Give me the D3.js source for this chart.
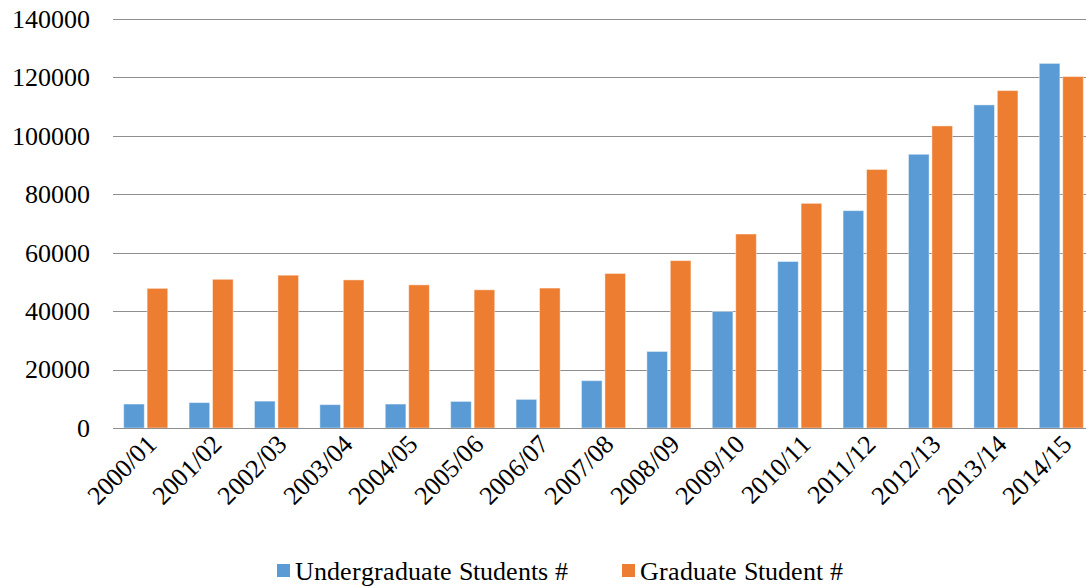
<!DOCTYPE html>
<html>
<head>
<meta charset="utf-8">
<script src="https://cdn.jsdelivr.net/npm/d3@7"></script>
<style>
  @font-face { font-family: "ChartSerif"; src: local("Liberation Serif"), local("LiberationSerif"), local("LiberationSerif-Regular"); }
  .lbl { font-family: "ChartSerif", "Liberation Serif", serif; font-size: 26px; fill: #000; }
</style>
</head>
<body style="margin:0">
<div id="chart"></div>
<script>
// data
var years = ["2000/01","2001/02","2002/03","2003/04","2004/05","2005/06","2006/07","2007/08",
             "2008/09","2009/10","2010/11","2011/12","2012/13","2013/14","2014/15"];
var undergrad = [8200, 8700, 9200, 8000, 8200, 9100, 9800, 16200, 26200, 39900, 57000, 74400, 93700, 110600, 124800];
var graduate = [47800, 50900, 52300, 50700, 49000, 47300, 47900, 52900, 57300, 66400, 76900, 88500, 103400, 115500, 120300];
var seriesNames = ["Undergraduate Students #", "Graduate Student #"];
var yTicks = [0, 20000, 40000, 60000, 80000, 100000, 120000, 140000];

var W = 1086, H = 588;
var margin = {top: 19, right: -8, bottom: 160, left: 113};
var width = W - margin.left - margin.right,
    height = H - margin.top - margin.bottom;

var colors = ["#5B9BD5", "#ED7D31"];

var svg = d3.select("#chart")
    .append("svg")
    .attr("width", W)
    .attr("height", H);

var g = svg.append("g")
    .attr("transform", `translate(${margin.left}, ${margin.top})`);

var x = d3.scaleBand()
    .domain(years)
    .range([0, width])
    .paddingInner(0.24)
    .paddingOuter(0.12);

var xSub = d3.scaleBand()
    .domain([0, 1])
    .range([0, x.bandwidth()])
    .padding(0.12);

var y = d3.scaleLinear()
    .domain([0, 140000])
    .range([height, 0]);

// grid lines
g.append("g")
    .selectAll("line")
    .data(yTicks.slice(1))
    .join("line")
    .attr("x1", 0)
    .attr("x2", width)
    .attr("y1", d => Math.round(y(d)) + 0.5)
    .attr("y2", d => Math.round(y(d)) + 0.5)
    .attr("stroke", "#8f8f8f")
    .attr("stroke-width", 1.2);

// y axis labels
g.append("g")
    .selectAll("text")
    .data(yTicks)
    .join("text")
    .attr("class", "lbl")
    .attr("x", -23)
    .attr("y", d => y(d))
    .attr("dy", "0.34em")
    .attr("text-anchor", "end")
    .text(d => d3.format("d")(d));

// bars
var groups = g.append("g")
    .selectAll("g")
    .data(years.map((yr, i) => ({year: yr, vals: [undergrad[i], graduate[i]]})))
    .join("g")
    .attr("transform", d => `translate(${x(d.year)}, 0)`);

groups.selectAll("rect")
    .data(d => d.vals.map((v, k) => ({k: k, value: v})))
    .join("rect")
    .attr("x", d => xSub(d.k))
    .attr("y", d => y(d.value))
    .attr("width", xSub.bandwidth())
    .attr("height", d => height - y(d.value))
    .attr("fill", d => colors[d.k])
    .attr("stroke", "rgba(255,255,255,0.45)")
    .attr("stroke-width", 1);

// x axis line
g.append("line")
    .attr("x1", 0)
    .attr("x2", width)
    .attr("y1", Math.round(height) + 0.5)
    .attr("y2", Math.round(height) + 0.5)
    .attr("stroke", "#8f8f8f")
    .attr("stroke-width", 1.2);

// x labels, rotated
g.append("g")
    .selectAll("text")
    .data(years)
    .join("text")
    .attr("class", "lbl")
    .attr("text-anchor", "end")
    .attr("transform", d => `translate(${x(d) + x.bandwidth() / 2 + 12}, ${height + 18}) rotate(-45)`)
    .text(d => d);

// legend
var legend = svg.append("g");
var legendX = [277, 622];
seriesNames.forEach(function(name, i) {
    legend.append("rect")
        .attr("x", legendX[i])
        .attr("y", 564)
        .attr("width", 13)
        .attr("height", 13)
        .attr("fill", colors[i]);
    legend.append("text")
        .attr("class", "lbl")
        .attr("x", legendX[i] + 18)
        .attr("y", 580)
        .text(name);
});
</script>
</body>
</html>
